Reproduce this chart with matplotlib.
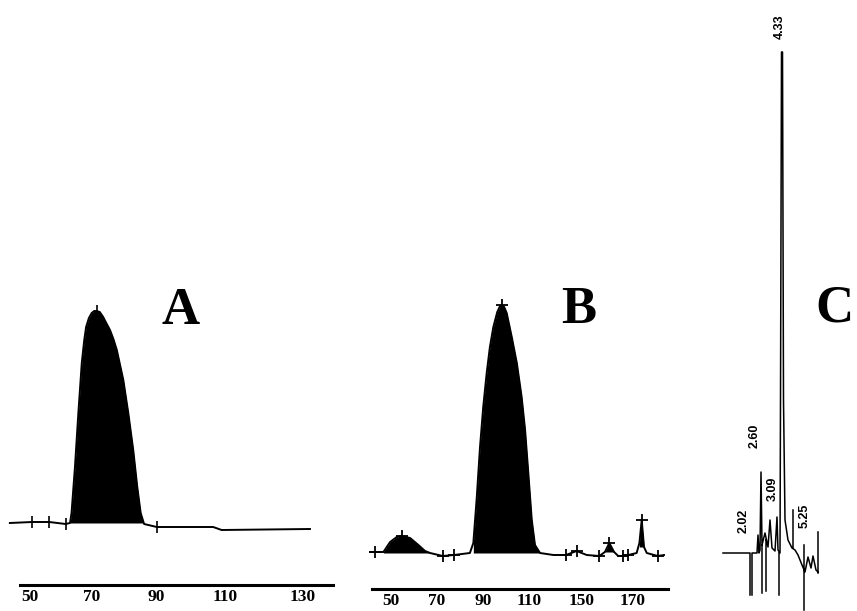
import numpy as np
import matplotlib
matplotlib.use('Agg')
import matplotlib.pyplot as plt

# ---- panel A : trace (x = elution volume, y = detector height)
a_x = [43.5, 50.7, 56.2, 61.5, 62.9, 63.4, 64.5, 65.6, 66.7, 67.5, 68.1, 69.0, 69.9,
       70.7, 71.5, 72.5, 73.6, 74.6, 75.8, 76.9, 78.0, 80.1, 81.7, 83.3, 84.6,
       85.7, 86.8, 90.9, 109.1, 111.8, 140.3]
a_y = [62, 63, 63, 61, 62, 72, 118, 172, 222, 245, 258, 267, 272,
       274, 274, 273, 268, 262, 255, 246, 235, 205, 172, 135, 98,
       72, 61, 58, 58, 55, 56]
a_marks = [50.7, 56.2, 61.5, 71.5, 90.9]
a_ticks = ['50', '70', '90', '110', '130']
a_tick_pos = [50, 70, 90.6, 113, 138]

# ---- panel B
b_x = [40.9, 43.0, 46.7, 49.6, 52.5, 54.6, 58.3, 61.9, 64.8, 67.0, 72.5, 77.4,
       84.3, 85.8, 87.3, 88.7, 90.1, 91.6, 93.0, 94.5, 96.2, 97.2, 98.1, 99.2, 100.3, 102.5,
       104.7, 106.8, 108.3, 109.7, 111.2, 112.6, 114.8, 120.6, 126.1, 130.7,
       135.1, 140.6, 143.0, 144.9, 147.0, 148.8, 150.7, 153.2, 156.8, 158.0,
       159.0, 160.0, 161.2, 166.0, 168.7]
b_y = [37, 37, 37, 47, 52, 53, 51, 44, 38, 36, 33, 34,
       36, 46, 92, 142, 182, 216, 242, 262, 277, 282, 284, 282, 276, 252,
       226, 192, 159, 116, 69, 44, 36, 34, 34, 38,
       34, 33, 37, 46, 37, 33, 33, 34, 36, 46,
       69, 42, 36, 33, 34]
b_marks = [43.0, 54.6, 72.5, 77.4, 98.1, 126.1, 130.7, 140.6, 144.9, 150.7, 153.2, 159.0, 166.0]
b_peaks = [(46.7, 67.0), (85.8, 114.8), (143.0, 147.0), (158.0, 160.0)]
b_ticks = ['50', '70', '90', '110', '150', '170']
b_tick_pos = [50, 70, 90, 110, 133, 155]

# ---- panel C : pen trace of the HPLC chart (NaN = pen lifted)
nan = np.nan
c_x = [23, 50, 50, nan,
       52, 52, 57, 58, 59, 60, 61, 62, 65, 68, 70, 72, 75, 77, 78, 80, 80.5, 81.5,
       82.5, 83.5, 85, 88, 92, 95, 98, 102, 105, 108, 111, 113, 116, 118, nan,
       62, 62, nan, 66, 66, nan, 79, 79, nan, 104, 104, nan, 93, 93, nan, 118, 118]
c_y = [58, 58, 16, nan,
       16, 58, 58, 76, 58, 61, 139, 66, 78, 64, 91, 63, 60, 94, 61, 58, 211, 559,
       559, 211, 91, 71, 63, 61, 56, 46, 39, 54, 43, 55, 41, 39, nan,
       66, 18, nan, 71, 20, nan, 58, 16, nan, 66, 1, nan, 63, 101, nan, 79, 38]
c_labels = ['2.02', '2.60', '3.09', '4.33', '5.25']

W, H = 857, 611
fig = plt.figure(figsize=(W / 100, H / 100), dpi=100)

serif = 'Liberation Serif'


def setup_axis(ax, bounds, ticks, tick_pos):
    for s in ['top', 'left', 'right']:
        ax.spines[s].set_visible(False)
    ax.spines['bottom'].set_linewidth(2.2)
    ax.spines['bottom'].set_bounds(*bounds)
    ax.set_yticks([])
    ax.set_xticks(tick_pos, ticks)
    ax.tick_params(axis='x', length=0, pad=3)
    for t in ax.get_xticklabels():
        t.set_fontfamily(serif)
        t.set_fontweight('bold')
        t.set_fontsize(12.5)
    ax.patch.set_alpha(0)


# panel A
axA = fig.add_axes([0, 26 / H, 340 / W, 585 / H])
axA.set_xlim(40.32, 150)
axA.set_ylim(0, 585)
axA.plot(a_x, a_y, color='black', lw=1.4)
a_mask = [(v >= 62.9) and (v <= 86.8) for v in a_x]
axA.fill_between(a_x, 62, a_y, where=a_mask, color='black', lw=0)
axA.plot(a_marks, np.interp(a_marks, a_x, a_y), ls='none', marker='|', ms=9, mew=1.2, color='black')
setup_axis(axA, (46.8, 147.7), a_ticks, a_tick_pos)

# panel B
axB = fig.add_axes([360 / W, 22 / H, 320 / W, 589 / H])
axB.set_xlim(36.52, 175.65)
axB.set_ylim(0, 589)
axB.plot(b_x, b_y, color='black', lw=1.4)
for lo, hi in b_peaks:
    mask = [(v >= lo) and (v <= hi) for v in b_x]
    base = min(b_y[b_x.index(lo)], b_y[b_x.index(hi)])
    axB.fill_between(b_x, base, b_y, where=mask, color='black', lw=0)
axB.plot(b_marks, np.interp(b_marks, b_x, b_y), ls='none', marker='+', ms=9, mew=1.3, color='black')
setup_axis(axB, (41.7, 170.4), b_ticks, b_tick_pos)

# panel C
axC = fig.add_axes([700 / W, 0, 157 / W, 1])
axC.set_xlim(0, 157)
axC.set_ylim(0, 611)
axC.plot(c_x, c_y, color='black', lw=1.1)
c_label_xy = [(44, 90), (55, 175), (73, 122), (80, 584), (105, 95)]
for lab, (lx, ly) in zip(c_labels, c_label_xy):
    axC.text(lx, ly, lab, rotation=90, ha='center', va='center',
             fontsize=9, fontweight='bold', family='Liberation Sans')
axC.axis('off')

# panel letters (C pulled in a little so it is not clipped)
for letter, px, py in [('A', 181, 324), ('B', 579, 323), ('C', 834, 322)]:
    fig.text(px / W, 1 - py / H, letter, ha='center', va='baseline',
             fontsize=38, fontweight='bold', family=serif)

fig.savefig('out.png', dpi=100)
